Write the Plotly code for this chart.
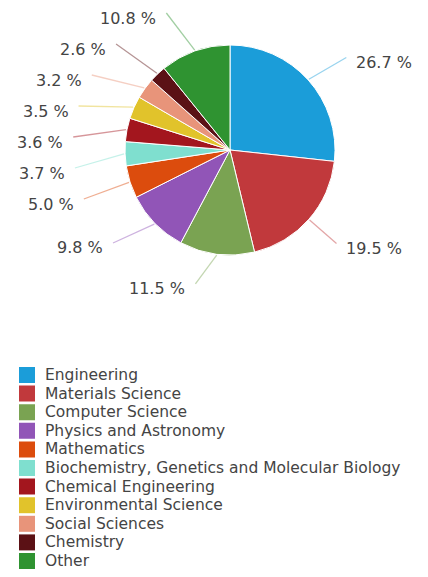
import math
import plotly.graph_objects as go

subjects = ['Engineering', 'Materials Science', 'Computer Science', 'Physics and Astronomy',
            'Mathematics', 'Biochemistry, Genetics and Molecular Biology', 'Chemical Engineering',
            'Environmental Science', 'Social Sciences', 'Chemistry', 'Other']
shares = [26.7, 19.5, 11.5, 9.8, 5.0, 3.7, 3.6, 3.5, 3.2, 2.6, 10.8]
colours = ['#1b9dd9', '#c1393c', '#7aa352', '#9155b7', '#dc4c0d', '#7fdfcf',
           '#a3161e', '#e1c32b', '#e8947a', '#5b1115', '#2f9331']

# page has an 8px body margin, so the figure is 16px smaller than the window
OFF = 8
W, H = 428 - 2 * OFF, 577 - 2 * OFF
CX, CY, R = 230, 150, 105      # pie centre and radius, page px
LABEL_R = 140                  # circle the connectors run to
GAP = 31                       # min vertical spacing of left labels
PAD_L, PAD_R = 25, 15
ROW0, ROW = 375, 18.6          # legend first row centre and row pitch
FONT = 'DejaVu Sans, sans-serif'


def rgba(hex_col, a):
    h = hex_col.lstrip('#')
    return 'rgba({},{},{},{})'.format(int(h[0:2], 16), int(h[2:4], 16), int(h[4:6], 16), a)


# mid angle of each slice, clockwise from 12 o'clock
total = sum(shares)
mids = []
acc = 0
for s in shares:
    mids.append((acc + s / 2) / total * 2 * math.pi)
    acc += s

label_y = [CY - LABEL_R * math.cos(a) for a in mids]
# push the crowded labels on the left side apart, top to bottom
left = sorted([i for i, a in enumerate(mids) if math.sin(a) < 0], key=lambda i: label_y[i])
prev = None
for i in left:
    if prev is not None and label_y[i] < prev + GAP:
        label_y[i] = prev + GAP
    prev = label_y[i]

fig = go.Figure()

annotations = []
for i, (a, v) in enumerate(zip(mids, shares)):
    side = 1 if math.sin(a) > 0 else -1
    if side > 0:
        label_y[i] += 6
    dy = label_y[i] - CY
    dx = math.sqrt(max(LABEL_R ** 2 - dy ** 2, 0))
    lx = CX + side * (dx + (PAD_R if side > 0 else PAD_L))
    # connector from slice edge to label
    fig.add_trace(go.Scatter(x=[CX + (R + 1) * math.sin(a), lx - side * 8],
                             y=[CY - (R + 1) * math.cos(a), label_y[i] - 5],
                             mode='lines', line=dict(color=rgba(colours[i], 0.45), width=1.3),
                             hoverinfo='skip', showlegend=False))
    annotations.append(dict(x=lx, y=label_y[i], xref='x', yref='y', showarrow=False,
                            text=f'{v:.1f} %', xanchor='left' if side > 0 else 'right',
                            yanchor='middle', font=dict(family=FONT, size=16, color='#444')))

fig.add_trace(go.Pie(labels=subjects, values=shares, sort=False, direction='clockwise',
                     rotation=0, textinfo='none', showlegend=False,
                     marker=dict(colors=colours, line=dict(color='white', width=1)),
                     domain=dict(x=[(CX - R - OFF) / W, (CX + R - OFF) / W],
                                 y=[1 - (CY + R - OFF) / H, 1 - (CY - R - OFF) / H])))

# legend drawn as a category column: swatches + annotation texts
fig.add_trace(go.Scatter(x=[27] * len(subjects), y=subjects, yaxis='y2',
                         mode='markers', marker=dict(symbol='square', size=16, color=colours),
                         hoverinfo='skip', showlegend=False))
for s in subjects:
    annotations.append(dict(x=43, y=s, xref='x', yref='y2', showarrow=False, text=s,
                            xanchor='left', yanchor='middle',
                            font=dict(family=FONT, size=15.5, color='#444')))

top = ROW0 - ROW / 2
fig.update_layout(width=W, height=H, margin=dict(l=0, r=0, t=0, b=0),
                  paper_bgcolor='white', plot_bgcolor='white',
                  xaxis=dict(range=[OFF, OFF + W], visible=False, fixedrange=True),
                  yaxis=dict(range=[OFF + H, OFF], visible=False, fixedrange=True),
                  yaxis2=dict(domain=[0, (OFF + H - top) / H], type='category',
                              range=[(OFF + H - ROW0) / ROW, -0.5],
                              visible=False, anchor='x', fixedrange=True),
                  annotations=annotations)

fig.write_html('out.html')
